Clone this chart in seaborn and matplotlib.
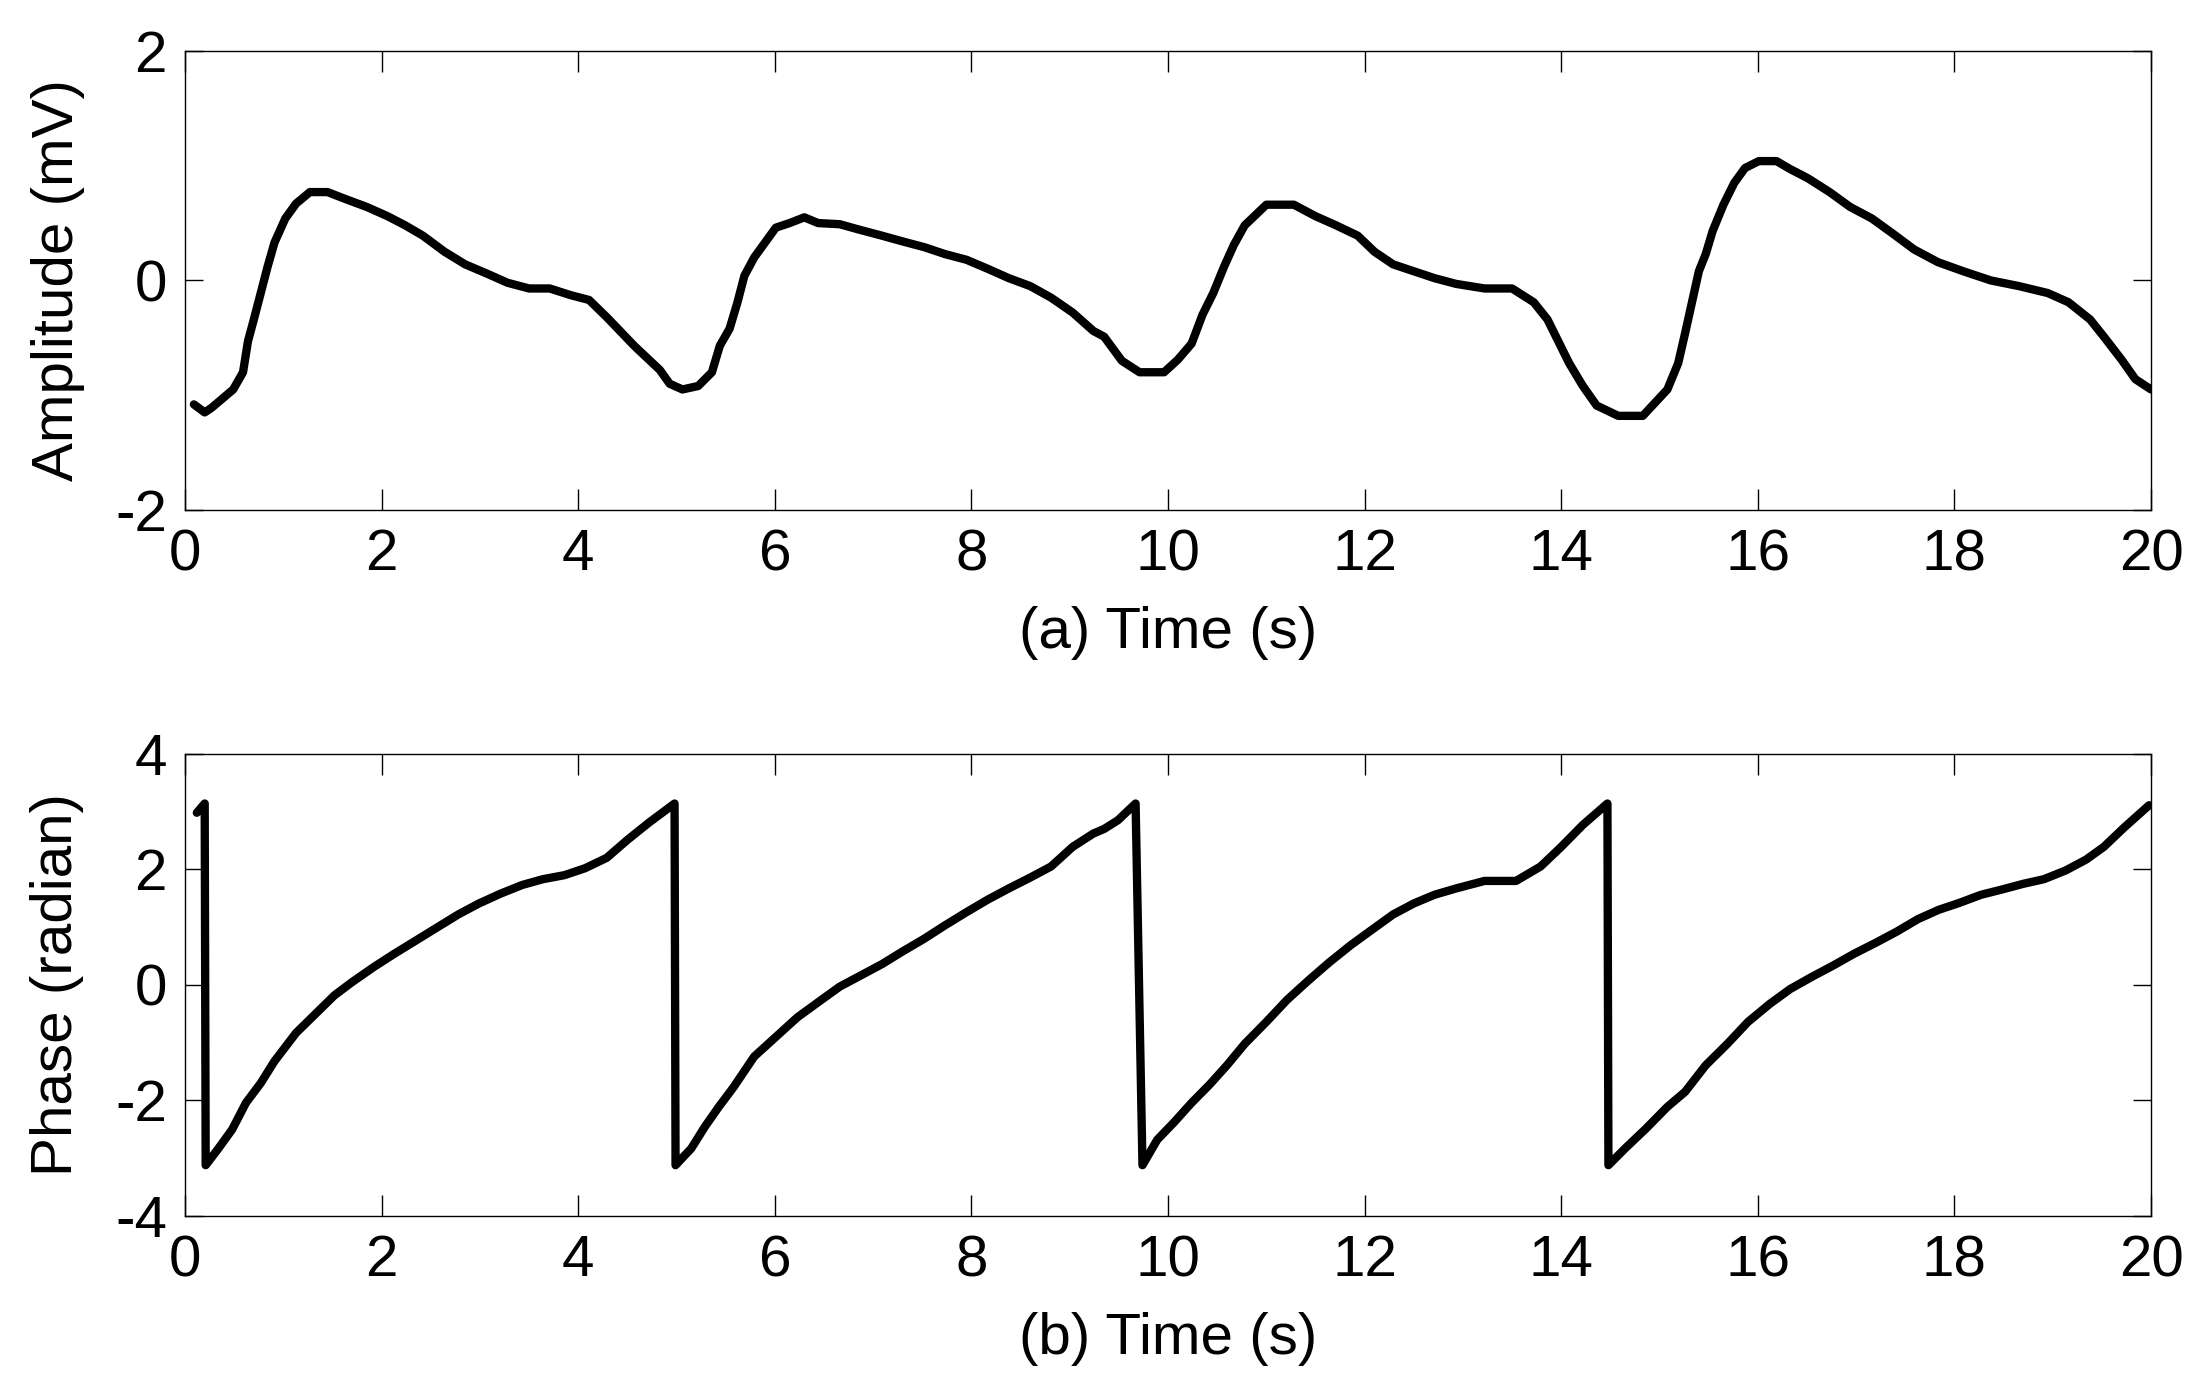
import matplotlib
matplotlib.use("Agg")
import matplotlib.pyplot as plt
import seaborn as sns
import pandas as pd

t_amp = [0.09, 0.2, 0.27, 0.49, 0.59, 0.64, 0.7, 0.77, 0.84, 0.91, 1.02, 1.13, 1.27, 1.45, 1.63, 1.85,
         2.06, 2.24, 2.42, 2.64, 2.85, 3.07, 3.28, 3.5, 3.71, 3.93, 4.11, 4.29, 4.57, 4.83, 4.93, 5.06,
         5.22, 5.36, 5.44, 5.54, 5.62, 5.69, 5.79, 5.9, 6.01, 6.15, 6.3, 6.44, 6.66, 6.87, 7.09, 7.3,
         7.52, 7.73, 7.95, 8.17, 8.38, 8.6, 8.81, 9.03, 9.24, 9.35, 9.53, 9.71, 9.96, 10.1, 10.24, 10.35,
         10.46, 10.57, 10.67, 10.78, 11.0, 11.28, 11.5, 11.71, 11.93, 12.1, 12.29, 12.5, 12.71, 12.93,
         13.22, 13.5, 13.72, 13.86, 13.97, 14.08, 14.22, 14.36, 14.58, 14.83, 15.08, 15.19, 15.26, 15.33,
         15.4, 15.47, 15.54, 15.65, 15.76, 15.87, 16.01, 16.19, 16.33, 16.51, 16.73, 16.94, 17.16, 17.37,
         17.59, 17.83, 18.09, 18.37, 18.66, 18.95, 19.16, 19.38, 19.52, 19.7, 19.84, 20.0]
amplitude = [-1.08, -1.15, -1.11, -0.95, -0.80, -0.53, -0.34, -0.11, 0.12, 0.33, 0.54, 0.67, 0.77, 0.77,
             0.71, 0.64, 0.56, 0.48, 0.39, 0.25, 0.14, 0.06, -0.02, -0.07, -0.07, -0.13, -0.17, -0.32,
             -0.57, -0.78, -0.90, -0.95, -0.92, -0.80, -0.57, -0.42, -0.19, 0.04, 0.20, 0.33, 0.46, 0.50,
             0.55, 0.50, 0.49, 0.44, 0.39, 0.34, 0.29, 0.23, 0.18, 0.10, 0.02, -0.05, -0.15, -0.28, -0.44,
             -0.49, -0.70, -0.80, -0.80, -0.69, -0.55, -0.30, -0.11, 0.12, 0.31, 0.48, 0.66, 0.66, 0.56,
             0.48, 0.39, 0.25, 0.14, 0.08, 0.02, -0.03, -0.07, -0.07, -0.19, -0.34, -0.53, -0.72, -0.92,
             -1.09, -1.18, -1.18, -0.95, -0.72, -0.46, -0.19, 0.08, 0.23, 0.43, 0.66, 0.85, 0.98, 1.04,
             1.04, 0.97, 0.89, 0.77, 0.64, 0.54, 0.41, 0.27, 0.16, 0.08, 0.0, -0.05, -0.11, -0.19, -0.34,
             -0.49, -0.69, -0.86, -0.95]

t_ph = [0.12, 0.2, 0.21, 0.34, 0.48, 0.62, 0.77, 0.91, 1.13, 1.34, 1.52, 1.7, 1.92, 2.13, 2.35, 2.56,
        2.78, 2.99, 3.21, 3.43, 3.64, 3.86, 4.07, 4.29, 4.5, 4.72, 4.98, 4.99, 5.15, 5.29, 5.43, 5.58,
        5.79, 6.01, 6.23, 6.44, 6.66, 6.87, 7.09, 7.3, 7.52, 7.73, 7.95, 8.17, 8.38, 8.6, 8.81, 9.03,
        9.24, 9.35, 9.49, 9.67, 9.74, 9.89, 10.06, 10.24, 10.42, 10.6, 10.78, 11.0, 11.21, 11.43, 11.64,
        11.86, 12.07, 12.29, 12.5, 12.71, 12.93, 13.22, 13.54, 13.79, 14.0, 14.22, 14.47, 14.48, 14.65,
        14.86, 15.08, 15.26, 15.47, 15.69, 15.9, 16.12, 16.33, 16.55, 16.76, 16.98, 17.2, 17.41, 17.63,
        17.84, 18.05, 18.27, 18.48, 18.7, 18.91, 19.13, 19.34, 19.52, 19.73, 19.98]
phase = [2.98, 3.14, -3.12, -2.83, -2.5, -2.04, -1.70, -1.32, -0.83, -0.48, -0.18, 0.05, 0.31, 0.54, 0.77,
         0.99, 1.22, 1.41, 1.58, 1.73, 1.83, 1.90, 2.02, 2.20, 2.51, 2.81, 3.14, -3.12, -2.83, -2.45,
         -2.11, -1.77, -1.24, -0.90, -0.56, -0.30, -0.03, 0.16, 0.36, 0.58, 0.80, 1.03, 1.26, 1.48, 1.67,
         1.86, 2.05, 2.39, 2.62, 2.70, 2.85, 3.14, -3.12, -2.68, -2.38, -2.04, -1.73, -1.39, -1.02, -0.64,
         -0.26, 0.08, 0.39, 0.69, 0.95, 1.22, 1.41, 1.56, 1.67, 1.80, 1.80, 2.05, 2.39, 2.77, 3.14, -3.12,
         -2.83, -2.49, -2.11, -1.85, -1.39, -1.02, -0.64, -0.33, -0.07, 0.14, 0.33, 0.54, 0.73, 0.92,
         1.14, 1.30, 1.42, 1.56, 1.65, 1.75, 1.83, 1.98, 2.17, 2.39, 2.73, 3.11]

x_ticks = [0, 2, 4, 6, 8, 10, 12, 14, 16, 18, 20]
amp_ticks = [-2, 0, 2]
ph_ticks = [-4, -2, 0, 2, 4]
xlabel_a = "(a) Time (s)"
xlabel_b = "(b) Time (s)"
ylabel_a = "Amplitude (mV)"
ylabel_b = "Phase (radian)"

sns.set_theme(style="white")
plt.rcParams["font.family"] = ["Liberation Sans", "DejaVu Sans"]
plt.rcParams["text.color"] = "black"
plt.rcParams["axes.labelcolor"] = "black"
plt.rcParams["xtick.color"] = "black"
plt.rcParams["ytick.color"] = "black"

FS = 42
fig = plt.figure(figsize=(22.08, 13.88), dpi=100)
ax1 = fig.add_axes([0.0838, 0.6326, 0.8904, 0.3307])
ax2 = fig.add_axes([0.0838, 0.1239, 0.8904, 0.3330])

df_a = pd.DataFrame({"t": t_amp, "v": amplitude})
df_b = pd.DataFrame({"t": t_ph, "v": phase})

sns.lineplot(data=df_a, x="t", y="v", ax=ax1, color="black", linewidth=6, estimator=None, sort=False)
sns.lineplot(data=df_b, x="t", y="v", ax=ax2, color="black", linewidth=6, estimator=None, sort=False)

for ax, yt, ylim, xl, yl in [(ax1, amp_ticks, (-2, 2), xlabel_a, ylabel_a),
                             (ax2, ph_ticks, (-4, 4), xlabel_b, ylabel_b)]:
    ax.set_xlim(0, 20)
    ax.set_ylim(*ylim)
    ax.set_xticks(x_ticks)
    ax.set_yticks(yt)
    ax.set_xticklabels([str(v) for v in x_ticks])
    ax.set_yticklabels([str(v) for v in yt])
    ax.set_xlabel(xl, fontsize=FS, labelpad=17, color="black")
    ax.set_ylabel(yl, fontsize=FS, labelpad=22, color="black")
    ax.tick_params(axis="both", which="both", direction="in", top=True, right=True,
                   bottom=True, left=True, labelsize=FS, width=1.0, color="black",
                   labelcolor="black")
    ax.tick_params(axis="x", length=15, pad=13)
    ax.tick_params(axis="y", length=13, pad=13)
    for s in ax.spines.values():
        s.set_visible(True)
        s.set_color("black")
        s.set_linewidth(1.0)
    ax.grid(False)
    ax.set_facecolor("white")

fig.savefig("out.png", dpi=100, facecolor="white")
